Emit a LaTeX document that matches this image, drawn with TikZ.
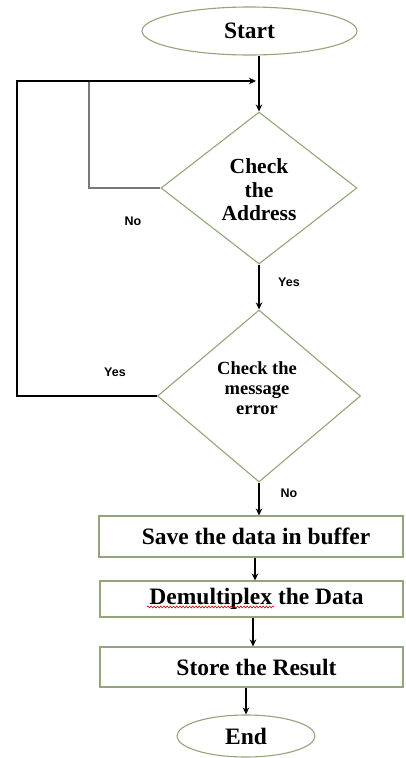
\documentclass[tikz,border=0pt]{standalone}
\usepackage{fontspec}
\setmainfont{Liberation Serif}
\newfontfamily\labelfont{Liberation Sans}
\usetikzlibrary{shapes.geometric,arrows.meta,calc,decorations.pathmorphing}

\definecolor{outline}{RGB}{146,166,122}
\definecolor{loopgray}{RGB}{120,120,120}

\tikzset{
  terminal/.style={ellipse, draw=outline, line width=1.1pt, inner sep=0pt,
    font=\fontsize{23.5}{26}\selectfont\bfseries},
  decision/.style={diamond, draw=outline, line width=1.1pt, inner sep=0pt},
  decisiontext/.style={align=center, inner sep=0pt},
  process/.style={rectangle, draw=outline, line width=1.1pt, inner sep=0pt,
    font=\fontsize{23.5}{26}\selectfont\bfseries},
  flow/.style={draw=black, line width=1.2pt,
    -{Stealth[length=7pt,width=6.5pt]}},
  loopline/.style={draw=loopgray, line width=1.6pt},
  answer/.style={font=\labelfont\fontsize{12.5}{14}\selectfont\bfseries, inner sep=0pt},
}

\begin{document}
\begin{tikzpicture}[x=1pt,y=-1pt]
  \path[use as bounding box, fill=white] (0,0) rectangle (406,758);

  % terminals
  \node[terminal, minimum width=215pt, minimum height=48pt] (start) at (249.5,31) {Start};
  \node[terminal, minimum width=138pt, minimum height=42pt] (end) at (246,736) {End};

  % decisions
  \node[decision, minimum width=196pt, minimum height=152pt] (d1) at (259,188) {};
  \node[decisiontext, font=\fontsize{21.5}{23.5}\selectfont\bfseries] (d1text) at (259,190)
    {Check\\the\\Address};
  \node[decision, minimum width=203pt, minimum height=172pt] (d2) at (259,396) {};
  \node[decisiontext, font=\fontsize{18.5}{20}\selectfont\bfseries] (d2text) at (257,388)
    {Check the\\message\\error};

  % processes
  \node[process, minimum width=304pt, minimum height=41pt] (box1) at (251,536.5) {\hspace*{10pt}Save the data in buffer};
  \node[process, minimum width=303pt, minimum height=36pt] (box2) at (251.5,599) {\hspace*{10pt}Demultiplex the Data};
  \node[process, minimum width=303pt, minimum height=40pt] (box3) at (251.5,667) {\hspace*{10pt}Store the Result};

  % spelling underline under the first word
  \draw[red!85!black, line width=0.6pt, decorate,
        decoration={snake, segment length=3.2pt, amplitude=0.9pt}]
        (147,607) -- (274,607);

  % loop-back corners
  \coordinate (merge) at (256,81);
  \coordinate (outer) at (17,81);
  \coordinate (inner) at (89,81);

  % main flow
  \draw[flow] (start.south -| d1.north) -- (d1.north);
  \draw[flow] (d1.south) -- (d2.north);
  \draw[flow] (d2.south) -- (box1.north -| d2.south);
  \draw[flow] (box1.south -| 255,0) -- (box2.north -| 255,0);
  \draw[flow] (box2.south -| 253,0) -- (box3.north -| 253,0);
  \draw[flow] (box3.south -| end.north) -- (end.north);

  % return paths
  \draw[loopline] (d1.west) -| (inner);
  \draw[flow] (d2.west) -| (outer) -- (merge);

  % answers
  \node[answer] (no1) at (133,221) {No};
  \node[answer] (yes1) at (289,282) {Yes};
  \node[answer] (yes2) at (115,372) {Yes};
  \node[answer] (no2) at (289,493) {No};
\end{tikzpicture}
\end{document}
